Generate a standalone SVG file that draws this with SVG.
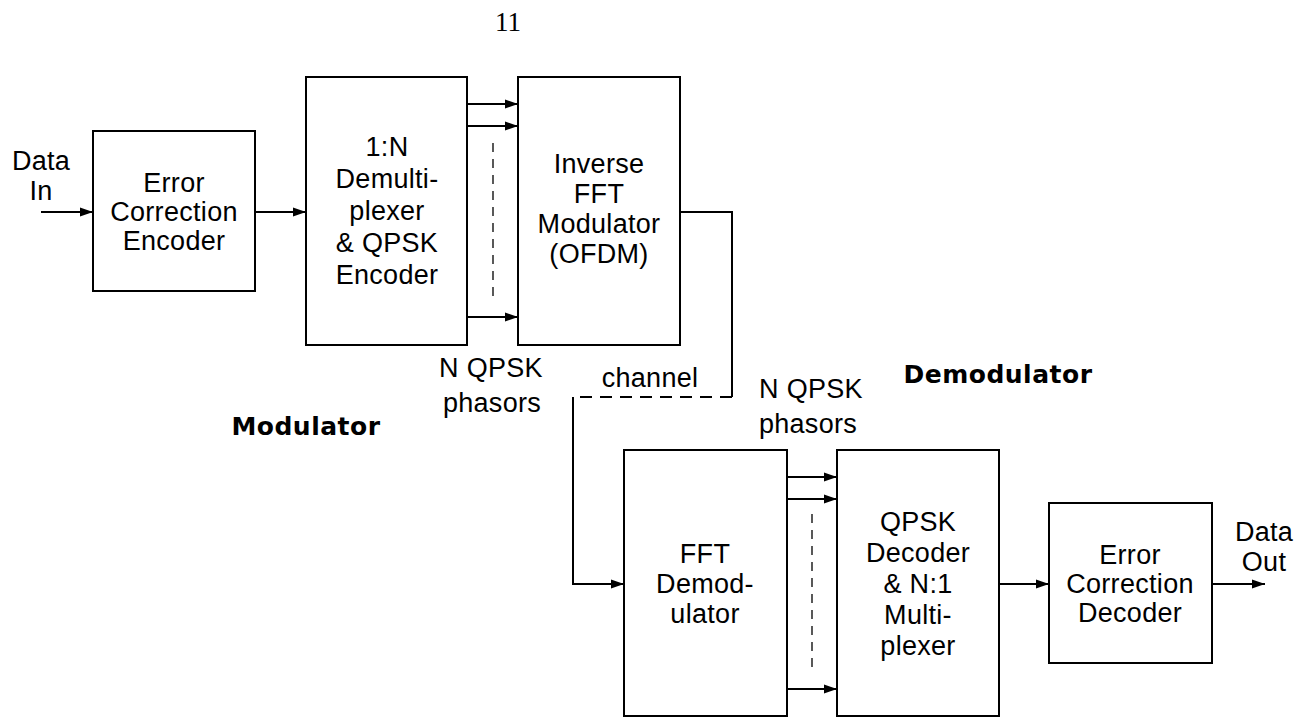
<svg xmlns="http://www.w3.org/2000/svg" width="1296" height="718" viewBox="0 0 1296 718">
<defs>
<marker id="arr" markerUnits="userSpaceOnUse" markerWidth="14" markerHeight="10" refX="13" refY="5" orient="auto">
<path d="M0,0.5 L13,5 L0,9.5 Z" fill="#000"/>
</marker>
<style>
.box{fill:#fff;stroke:#000;stroke-width:2}
.c{fill:none;stroke:#000;stroke-width:2}
.a{marker-end:url(#arr)}
.d{fill:none;stroke:#000;stroke-width:1.3;stroke-dasharray:9,7}
.dc{fill:none;stroke:#000;stroke-width:2;stroke-dasharray:12,8}
text{font-family:"Liberation Sans",Arial,sans-serif;font-size:27px;letter-spacing:0.3px;text-anchor:middle;fill:#000}
.b{font-family:"DejaVu Sans",sans-serif;font-weight:bold;font-size:25px;letter-spacing:0.5px}
.pg{font-family:"Liberation Serif",serif;font-size:27px;letter-spacing:0}
</style>
</defs>
<rect width="1296" height="718" fill="#fff"/>
<text class="pg" x="508" y="31">11</text>

<g id="connectors">
<path class="c a" d="M41,212 H93"/>
<path class="c a" d="M255,212 H306"/>
<path class="c a" d="M467,104 H518"/>
<path class="c a" d="M467,126 H518"/>
<path class="c a" d="M467,317 H518"/>
<path class="d" d="M493,143 V302"/>
<path class="c" d="M680,212 H732 V397"/>
<path class="dc" d="M732,397 H573"/>
<path class="c a" d="M573,397 V584 H624"/>
<path class="c a" d="M787,477 H837"/>
<path class="c a" d="M787,499 H837"/>
<path class="c a" d="M787,689 H837"/>
<path class="d" d="M812,514 V673"/>
<path class="c a" d="M999,584 H1049"/>
<path class="c a" d="M1212,584 H1265"/>
</g>

<g id="data-in">
<text x="41" y="170">Data</text>
<text x="41" y="200">In</text>
</g>

<g id="ec-encoder">
<rect class="box" x="93" y="131" width="162" height="160"/>
<text x="174" y="192">Error</text>
<text x="174" y="221">Correction</text>
<text x="174" y="250">Encoder</text>
</g>

<g id="demux">
<rect class="box" x="306" y="77" width="161" height="268"/>
<text x="387" y="156">1:N</text>
<text x="387" y="188">Demulti-</text>
<text x="387" y="220">plexer</text>
<text x="387" y="252">&amp; QPSK</text>
<text x="387" y="284">Encoder</text>
</g>

<g id="ifft">
<rect class="box" x="518" y="77" width="162" height="268"/>
<text x="599" y="173">Inverse</text>
<text x="599" y="203">FFT</text>
<text x="599" y="233">Modulator</text>
<text x="599" y="263">(OFDM)</text>
</g>

<g id="labels">
<text x="491" y="377">N QPSK</text>
<text x="492" y="412">phasors</text>
<text x="650" y="387">channel</text>
<text x="811" y="398">N QPSK</text>
<text x="808" y="433">phasors</text>
<text class="b" x="998" y="383">Demodulator</text>
<text class="b" x="306" y="435">Modulator</text>
</g>

<g id="fft">
<rect class="box" x="624" y="450" width="163" height="266"/>
<text x="705" y="563">FFT</text>
<text x="705" y="593">Demod-</text>
<text x="705" y="623">ulator</text>
</g>

<g id="qpsk-decoder">
<rect class="box" x="837" y="450" width="162" height="266"/>
<text x="918" y="531">QPSK</text>
<text x="918" y="562">Decoder</text>
<text x="918" y="593">&amp; N:1</text>
<text x="918" y="624">Multi-</text>
<text x="918" y="655">plexer</text>
</g>

<g id="ec-decoder">
<rect class="box" x="1049" y="503" width="163" height="160"/>
<text x="1130" y="564">Error</text>
<text x="1130" y="593">Correction</text>
<text x="1130" y="622">Decoder</text>
</g>

<g id="data-out">
<text x="1264" y="541">Data</text>
<text x="1264" y="571">Out</text>
</g>
</svg>
